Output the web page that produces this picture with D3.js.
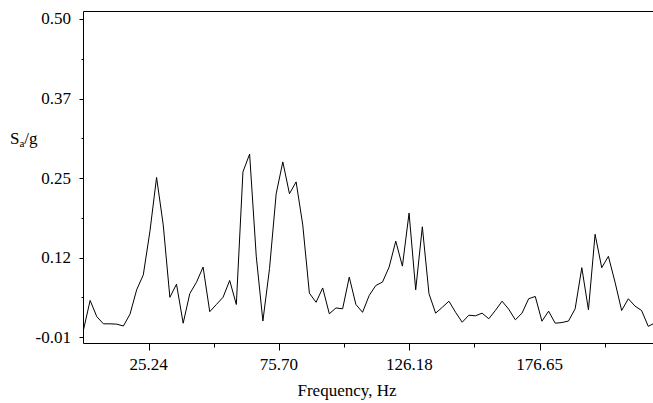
<!DOCTYPE html>
<html>
<head>
<meta charset="utf-8">
<script src="https://cdn.jsdelivr.net/npm/d3@7/dist/d3.min.js"></script>
<style>
  html, body { margin: 0; padding: 0; background: #fff; }
  svg { display: block; }
</style>
</head>
<body>
<div id="chart"></div>
<script>
// spectrum values (one point every ~2.57 Hz)
var freqHz = [0, 2.57, 5.15, 7.72, 10.29, 12.87, 15.44, 18.01, 20.58, 23.16,
  25.73, 28.30, 30.88, 33.45, 36.02, 38.60, 41.17, 43.74, 46.31, 48.89,
  51.46, 54.03, 56.61, 59.18, 61.75, 64.33, 66.90, 69.47, 72.04, 74.62,
  77.19, 79.76, 82.34, 84.91, 87.48, 90.06, 92.63, 95.20, 97.77, 100.35,
  102.92, 105.49, 108.07, 110.64, 113.21, 115.79, 118.36, 120.93, 123.50, 126.08,
  128.65, 131.22, 133.80, 136.37, 138.94, 141.52, 144.09, 146.66, 149.23, 151.81,
  154.38, 156.95, 159.53, 162.10, 164.67, 167.25, 169.82, 172.39, 174.96, 177.54,
  180.11, 182.68, 185.26, 187.83, 190.40, 192.98, 195.55, 198.12, 200.69, 203.27,
  205.84, 208.41, 210.99, 213.56, 216.13, 218.71, 221.28];

var saOverG = [0.002, 0.049, 0.023, 0.0115, 0.0115, 0.011, 0.008, 0.027, 0.066, 0.090,
  0.160, 0.246, 0.170, 0.054, 0.075, 0.0125, 0.060, 0.078, 0.1025, 0.031,
  0.0425, 0.054, 0.081, 0.0425, 0.255, 0.2835, 0.120, 0.016, 0.100, 0.220,
  0.271, 0.220, 0.239, 0.170, 0.0607, 0.046, 0.069, 0.0276, 0.037, 0.0356,
  0.0864, 0.0425, 0.030, 0.057, 0.073, 0.0784, 0.1025, 0.144, 0.104, 0.189,
  0.066, 0.167, 0.0597, 0.0286, 0.038, 0.0478, 0.030, 0.0141, 0.0253, 0.0244,
  0.0286, 0.0196, 0.033, 0.0478, 0.035, 0.018, 0.0286, 0.0517, 0.0554, 0.0157,
  0.0318, 0.0125, 0.0136, 0.016, 0.0356, 0.1015, 0.034, 0.155, 0.1015, 0.1197,
  0.0784, 0.0329, 0.0517, 0.040, 0.0329, 0.0075, 0.013];

var xTickValues = [25.235, 75.705, 126.175, 176.645];
var xTickLabels = ["25.24", "75.70", "126.18", "176.65"];
var xMinorTicks = [50.47, 100.94, 151.41, 201.88];

var yTickValues = [-0.01, 0.1175, 0.245, 0.3725, 0.50];
var yTickLabels = ["-0.01", "0.12", "0.25", "0.37", "0.50"];
var yMinorTicks = [0.05375, 0.18125, 0.30875, 0.43625];

var width = 653, height = 403;
var plot = {left: 83.5, right: 660, top: 11.5, bottom: 343.5};
var serif = "'Liberation Serif', serif";

var xScale = d3.scaleLinear()
    .domain([0, 223.26])
    .range([plot.left, plot.right]);

var yScale = d3.scaleLinear()
    .domain([-0.02, 0.512])
    .range([plot.bottom, plot.top]);

var svg = d3.select("#chart").append("svg")
    .attr("width", width)
    .attr("height", height);

// frame (right side falls outside the picture)
svg.append("path")
    .attr("d", "M" + plot.right + "," + plot.top + "H" + plot.left + "V" + plot.bottom + "H" + plot.right)
    .style("fill", "none")
    .style("stroke", "#000")
    .style("stroke-width", 1);

// y axis ticks, pointing out
svg.selectAll(".yMajor")
    .data(yTickValues)
    .enter().append("line")
      .attr("class", "yMajor")
      .attr("x1", plot.left - 4).attr("x2", plot.left)
      .attr("y1", function(d) { return Math.round(yScale(d)) + 0.5; })
      .attr("y2", function(d) { return Math.round(yScale(d)) + 0.5; })
      .style("stroke", "#000");

svg.selectAll(".yMinor")
    .data(yMinorTicks)
    .enter().append("line")
      .attr("class", "yMinor")
      .attr("x1", plot.left - 2).attr("x2", plot.left)
      .attr("y1", function(d) { return Math.round(yScale(d)) + 0.5; })
      .attr("y2", function(d) { return Math.round(yScale(d)) + 0.5; })
      .style("stroke", "#000");

svg.selectAll(".yLabel")
    .data(yTickValues)
    .enter().append("text")
      .attr("class", "yLabel")
      .attr("x", 71)
      .attr("y", function(d) { return yScale(d) + 5.5; })
      .attr("text-anchor", "end")
      .style("font-family", serif)
      .style("font-size", "17px")
      .text(function(d, i) { return yTickLabels[i]; });

// x axis ticks
svg.selectAll(".xMajor")
    .data(xTickValues)
    .enter().append("line")
      .attr("class", "xMajor")
      .attr("x1", function(d) { return Math.round(xScale(d)) + 0.5; })
      .attr("x2", function(d) { return Math.round(xScale(d)) + 0.5; })
      .attr("y1", plot.bottom).attr("y2", plot.bottom + 7)
      .style("stroke", "#000");

svg.selectAll(".xMinor")
    .data(xMinorTicks)
    .enter().append("line")
      .attr("class", "xMinor")
      .attr("x1", function(d) { return Math.round(xScale(d)) + 0.5; })
      .attr("x2", function(d) { return Math.round(xScale(d)) + 0.5; })
      .attr("y1", plot.bottom).attr("y2", plot.bottom + 4)
      .style("stroke", "#000");

svg.selectAll(".xLabel")
    .data(xTickValues)
    .enter().append("text")
      .attr("class", "xLabel")
      .attr("x", function(d) { return xScale(d); })
      .attr("y", 370)
      .attr("text-anchor", "middle")
      .style("font-family", serif)
      .style("font-size", "17px")
      .text(function(d, i) { return xTickLabels[i]; });

// axis titles
svg.append("text")
    .attr("x", 347)
    .attr("y", 396)
    .attr("text-anchor", "middle")
    .style("font-family", serif)
    .style("font-size", "17px")
    .text("Frequency, Hz");

var yTitle = svg.append("text")
    .attr("x", 10)
    .attr("y", 144)
    .style("font-family", serif)
    .style("font-size", "17px");
yTitle.append("tspan").text("S");
yTitle.append("tspan").attr("dy", 3).style("font-size", "11px").text("a");
yTitle.append("tspan").attr("dy", -3).text("/g");

// the spectrum line
var line = d3.line()
    .x(function(d, i) { return xScale(freqHz[i]); })
    .y(function(d) { return yScale(d); });

svg.append("path")
    .datum(saOverG)
    .attr("d", line)
    .style("fill", "none")
    .style("stroke", "#000")
    .style("stroke-width", 1);
</script>
</body>
</html>
